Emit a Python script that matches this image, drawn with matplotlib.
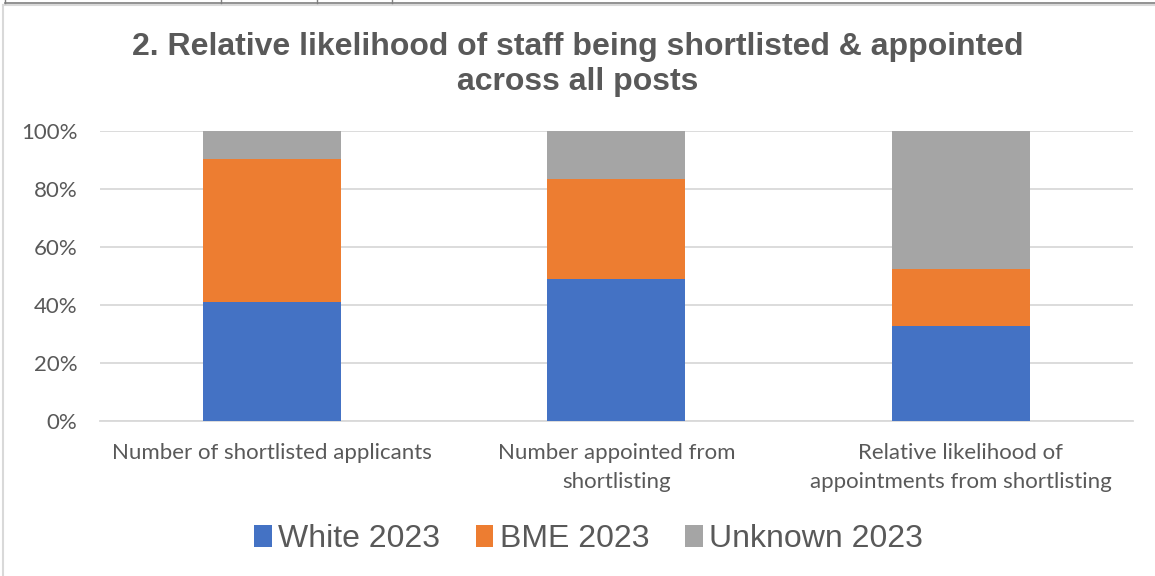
import matplotlib.pyplot as plt
import numpy as np
from matplotlib.lines import Line2D

# Data
categories = ["Number of shortlisted applicants",
              "Number appointed from\nshortlisting",
              "Relative likelihood of\nappointments from shortlisting"]
white = np.array([41.0, 48.9, 32.9])
bme = np.array([49.2, 34.6, 19.4])
unknown = 100 - white - bme
series_names = ["White 2023", "BME 2023", "Unknown 2023"]
colors = ["#4472C4", "#ED7D31", "#A5A5A5"]

text_col = "#595959"

fig = plt.figure(figsize=(11.55, 5.76), dpi=100)
ax = fig.add_axes([0.0862, 0.269, 0.8948, 0.5036])

x = np.arange(len(categories))
ax.bar(x, white, width=0.4, color=colors[0], label=series_names[0], zorder=3)
ax.bar(x, bme, width=0.4, bottom=white, color=colors[1], label=series_names[1], zorder=3)
ax.bar(x, unknown, width=0.4, bottom=white + bme, color=colors[2], label=series_names[2], zorder=3)

ax.set_xlim(-0.5, 2.5)
ax.set_ylim(0, 100)
ax.set_yticks(np.arange(0, 101, 20))
ax.set_yticklabels([f"{v}%" for v in range(0, 101, 20)])
ax.set_xticks(x)
ax.set_xticklabels(categories, linespacing=1.6)

ax.grid(axis="y", color="#D9D9D9", linewidth=1.3, zorder=0)
for s in ["top", "right", "left"]:
    ax.spines[s].set_visible(False)
ax.spines["bottom"].set_color("#D9D9D9")
ax.spines["bottom"].set_linewidth(1.3)
ax.tick_params(length=0, colors=text_col)
ax.tick_params(axis="y", pad=16)
ax.tick_params(axis="x", pad=15.5)
for lab in ax.get_xticklabels() + ax.get_yticklabels():
    lab.set_family(["Lato", "DejaVu Sans"])
    lab.set_fontsize(16)
    lab.set_color(text_col)

fig.text(0.5, 0.945, "2. Relative likelihood of staff being shortlisted & appointed\nacross all posts",
         ha="center", va="top", fontsize=23, fontweight="bold", color=text_col,
         family=["Liberation Sans", "DejaVu Sans"], linespacing=1.25)

leg = fig.legend(loc="center", bbox_to_anchor=(0.5095, 0.064), ncol=3, frameon=False,
                 prop={"family": ["Liberation Sans", "DejaVu Sans"], "size": 23},
                 handlelength=0.55, handleheight=0.72, handletextpad=0.2, columnspacing=1.12)
for t in leg.get_texts():
    t.set_color(text_col)

# chart frame / table border fragments at top
fig.add_artist(Line2D([0.003, 0.003], [0.0, 0.992], color="#D9D9D9", lw=1.5))
fig.add_artist(Line2D([0.003, 1.0], [0.992, 0.992], color="#D9D9D9", lw=1.5))
fig.add_artist(Line2D([0.004, 1.0], [0.9945, 0.9945], color="#7F7F7F", lw=1.2))
for xv in [5, 221, 317, 392]:
    fig.add_artist(Line2D([xv / 1155, xv / 1155], [0.9945, 1.0], color="#7F7F7F", lw=1.0))

fig.savefig("out.png", dpi=100)
